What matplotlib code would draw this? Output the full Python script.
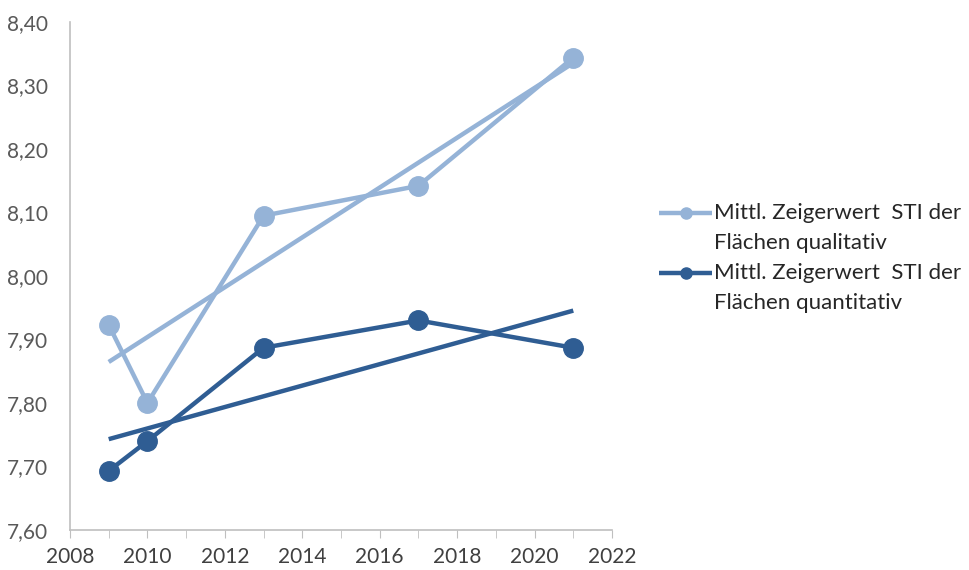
import numpy as np
import matplotlib.pyplot as plt
from matplotlib.lines import Line2D
from matplotlib.ticker import FuncFormatter, MultipleLocator

# Mean STI indicator values per survey year
years = [2009, 2010, 2013, 2017, 2021]
sti_qualitativ = [7.923, 7.800, 8.095, 8.142, 8.344]
sti_quantitativ = [7.693, 7.740, 7.887, 7.930, 7.887]

labels = [["Mittl. Zeigerwert  STI der", "Flächen qualitativ"],
          ["Mittl. Zeigerwert  STI der", "Flächen quantitativ"]]
colors = ["#95B3D7", "#2F5D93"]

plt.rcParams['font.family'] = ['Lato', 'DejaVu Sans']

W, H = 969, 570
fig = plt.figure(figsize=(W / 100, H / 100), dpi=100)
ax = fig.add_axes([70 / W, 40 / H, 542 / W, 508 / H])

x = np.array(years)
for vals, color in zip([sti_qualitativ, sti_quantitativ], colors):
    ax.plot(x, vals, color=color, lw=3.2, marker='o', ms=14,
            solid_capstyle='butt', zorder=3)
    # linear trend line
    k, d = np.polyfit(x, vals, 1)
    ax.plot([x[0], x[-1]], [k * x[0] + d, k * x[-1] + d], color=color,
            lw=3.2, solid_capstyle='butt', zorder=2)

ax.set_xlim(2008, 2022)
ax.set_ylim(7.60, 8.40)
ax.xaxis.set_major_locator(MultipleLocator(2))
ax.xaxis.set_minor_locator(MultipleLocator(1))
ax.yaxis.set_major_locator(MultipleLocator(0.1))
ax.yaxis.set_major_formatter(FuncFormatter(lambda v, p: f"{v:.2f}".replace('.', ',')))

for side in ['top', 'right']:
    ax.spines[side].set_visible(False)
for side in ['left', 'bottom']:
    ax.spines[side].set_color('#BFBFBF')
    ax.spines[side].set_linewidth(1.2)

ax.tick_params(axis='y', length=0, pad=16, labelsize=15, labelcolor='#595959')
ax.tick_params(axis='x', which='both', direction='out', length=6, color='#BFBFBF',
               labelsize=15, labelcolor='#404040', pad=6)

# legend drawn by hand so the key sits on the first text line
for i, (lines, color) in enumerate(zip(labels, colors)):
    y0 = 213 + i * 60
    fy = 1 - y0 / H
    fig.add_artist(Line2D([659 / W, 712 / W], [fy, fy], color=color, lw=3.2,
                          solid_capstyle='butt', transform=fig.transFigure))
    fig.add_artist(Line2D([685.5 / W], [fy], color=color, marker='o', ms=8,
                          transform=fig.transFigure))
    for j, txt in enumerate(lines):
        fig.text(714 / W, 1 - (y0 + j * 30) / H, txt, fontsize=16,
                 color='#262626', va='center', ha='left')

fig.savefig('out.png', dpi=100)
